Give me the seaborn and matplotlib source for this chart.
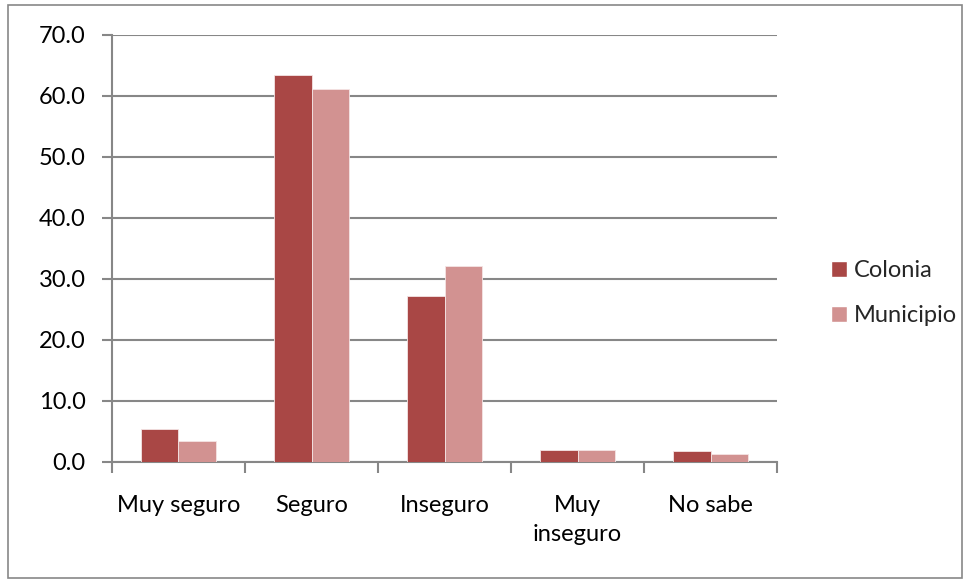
import matplotlib
matplotlib.use("Agg")
import matplotlib.pyplot as plt
from matplotlib.patches import Rectangle
from matplotlib.ticker import FixedLocator, FormatStrFormatter
import numpy as np
import pandas as pd
import seaborn as sns

categories = ["Muy seguro", "Seguro", "Inseguro", "Muy\ninseguro", "No sabe"]
colonia = [5.4, 63.5, 27.2, 2.0, 1.8]
municipio = [3.4, 61.1, 32.2, 1.9, 1.3]
series_names = ["Colonia", "Municipio"]
y_ticks = [0, 10, 20, 30, 40, 50, 60, 70]

df = pd.DataFrame({
    "categoria": categories * 2,
    "serie": [series_names[0]] * len(categories) + [series_names[1]] * len(categories),
    "valor": colonia + municipio,
})

sns.set_theme(style="white")
plt.rcParams["font.family"] = ["Lato", "DejaVu Sans"]

grid_gray = "#878787"
palette = {"Colonia": "#A94745", "Municipio": "#D29291"}
fs = 17

fig = plt.figure(figsize=(9.68, 5.82), dpi=100)
ax = fig.add_axes([0.1157, 0.2062, 0.687, 0.7337])

sns.barplot(data=df, x="categoria", y="valor", hue="serie", order=categories,
            hue_order=series_names, palette=palette, width=0.57, dodge=True,
            saturation=1, edgecolor="#f4e4e4", linewidth=0.6, ax=ax, legend=False,
            zorder=3)

ax.set_xlim(-0.5, len(categories) - 0.5)
ax.set_ylim(0, 70)
ax.yaxis.set_major_locator(FixedLocator(y_ticks))
ax.yaxis.set_major_formatter(FormatStrFormatter("%.1f"))
ax.grid(axis="y", color=grid_gray, linewidth=1.5, zorder=0)
ax.set_axisbelow(True)

for side in ["top", "right"]:
    ax.spines[side].set_visible(False)
for side in ["left", "bottom"]:
    ax.spines[side].set_color(grid_gray)
    ax.spines[side].set_linewidth(1.5)

ax.set_xlabel("")
ax.set_ylabel("")
ax.tick_params(axis="y", which="major", length=7, width=1.5, color=grid_gray,
               labelsize=fs, pad=12, labelcolor="black", left=True)
ax.tick_params(axis="x", which="major", length=0, labelsize=fs, pad=24,
               labelcolor="black")
ax.xaxis.set_minor_locator(FixedLocator(np.arange(-0.5, len(categories), 1.0)))
ax.tick_params(axis="x", which="minor", length=8, width=1.5, color=grid_gray,
               bottom=True)
for lbl in ax.get_xticklabels():
    lbl.set_linespacing(1.45)
    lbl.set_verticalalignment("top")

# legend at the right of the plot area
handles = [Rectangle((0, 0), 1, 1, facecolor=palette[s]) for s in series_names]
fig.legend(handles, series_names, loc="center left", bbox_to_anchor=(0.837, 0.496),
           frameon=False, fontsize=fs, handlelength=0.64, handleheight=0.64,
           handletextpad=0.3, labelspacing=1.03)

# chart area border
fig.patches.append(Rectangle((0.008, 0.007), 0.986, 0.984, transform=fig.transFigure,
                             fill=False, edgecolor=grid_gray, linewidth=1.2))

fig.savefig("out.png", dpi=100)
